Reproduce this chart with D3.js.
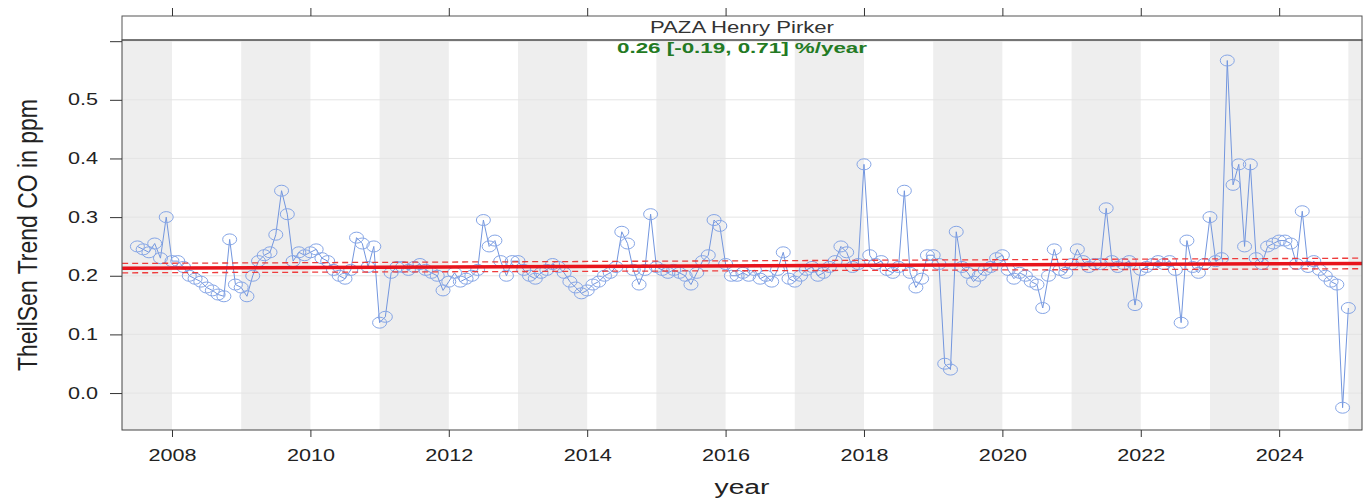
<!DOCTYPE html>
<html>
  <head>
    <meta charset="utf-8">
    <title>TheilSen Trend CO - PAZA Henry Pirker</title>
    <script src="https://d3js.org/d3.v7.min.js"></script>
    <style>
      body { margin: 0; background: #fff; }
      text { font-family: "Liberation Sans", Arial, sans-serif; }
    </style>
  </head>
  <body>
    <script>
        // monthly CO means (ppm), Jul 2007 .. Jan 2025
        var startYear = 2007, startMonth = 7;
        var monthlyCO = [
          0.25, 0.245, 0.24, 0.255, 0.23, 0.30,                                   // 2007
          0.225, 0.225, 0.215, 0.20, 0.195, 0.19, 0.18, 0.175, 0.168, 0.165, 0.262, 0.185, // 2008
          0.18, 0.165, 0.20, 0.225, 0.235, 0.24, 0.27, 0.345, 0.305, 0.225, 0.24, 0.235,   // 2009
          0.24, 0.245, 0.23, 0.225, 0.21, 0.20, 0.195, 0.21, 0.265, 0.255, 0.215, 0.25,    // 2010
          0.12, 0.13, 0.205, 0.215, 0.215, 0.21, 0.215, 0.22, 0.21, 0.205, 0.20, 0.175,    // 2011
          0.19, 0.205, 0.19, 0.195, 0.20, 0.21, 0.295, 0.25, 0.26, 0.225, 0.20, 0.225,     // 2012
          0.225, 0.21, 0.20, 0.195, 0.205, 0.21, 0.22, 0.215, 0.205, 0.19, 0.18, 0.17,     // 2013
          0.175, 0.185, 0.19, 0.20, 0.205, 0.215, 0.275, 0.255, 0.21, 0.185, 0.21, 0.305,  // 2014
          0.215, 0.21, 0.205, 0.21, 0.205, 0.20, 0.185, 0.205, 0.225, 0.235, 0.295, 0.285, // 2015
          0.22, 0.20, 0.20, 0.205, 0.20, 0.21, 0.195, 0.20, 0.19, 0.21, 0.24, 0.195,       // 2016
          0.19, 0.20, 0.21, 0.215, 0.20, 0.205, 0.215, 0.225, 0.25, 0.24, 0.215, 0.22,     // 2017
          0.39, 0.235, 0.22, 0.225, 0.21, 0.205, 0.215, 0.345, 0.205, 0.18, 0.195, 0.235,  // 2018
          0.235, 0.22, 0.05, 0.04, 0.275, 0.215, 0.205, 0.19, 0.20, 0.21, 0.215, 0.23,     // 2019
          0.235, 0.21, 0.195, 0.205, 0.20, 0.19, 0.185, 0.145, 0.20, 0.245, 0.21, 0.205,   // 2020
          0.22, 0.245, 0.225, 0.215, 0.22, 0.22, 0.315, 0.225, 0.215, 0.22, 0.225, 0.15,   // 2021
          0.21, 0.215, 0.22, 0.225, 0.22, 0.225, 0.21, 0.12, 0.26, 0.215, 0.205, 0.22,     // 2022
          0.30, 0.225, 0.23, 0.567, 0.355, 0.39, 0.25, 0.39, 0.23, 0.22, 0.25, 0.255,      // 2023
          0.26, 0.26, 0.255, 0.22, 0.31, 0.215, 0.225, 0.21, 0.20, 0.19, 0.185, -0.025,    // 2024
          0.145                                                                   // 2025
        ];

        // TheilSen trend line and its confidence limits (start / end of the series)
        var trendYears = [2007.28, 2025.2];
        var trendMid = [0.213, 0.221];
        var trendLower = [0.205, 0.212];
        var trendUpper = [0.221, 0.230];

        var xTicks = [2008, 2010, 2012, 2014, 2016, 2018, 2020, 2022, 2024];
        var yTicks = [0.0, 0.1, 0.2, 0.3, 0.4, 0.5, 0.6];
        var yTickLabels = ["0.0", "0.1", "0.2", "0.3", "0.4", "0.5", ""];
        var siteName = "PAZA Henry Pirker";
        var trendText = "0.26 [-0.19, 0.71] %/year";

        var data = monthlyCO.map(function(v, i) {
          var m = startMonth - 1 + i;
          return { t: startYear + Math.floor(m / 12) + (m % 12) / 12, value: v };
        });

        var W = 1364, H = 502;
        var panel = {left: 122, right: 1362, top: 40, bottom: 430};
        var stripTop = 16;
        var stretch = 1.35;   // the source picture is wider than tall-proportioned text

        var svg = d3.select("body").append("svg")
            .attr("width", W)
            .attr("height", H);

        var x = d3.scaleLinear()
            .domain([2007.2775, 2025.197])
            .range([panel.left, panel.right]);
        var y = d3.scaleLinear()
            .domain([-0.063, 0.602])
            .range([panel.bottom, panel.top]);

        svg.append("clipPath").attr("id", "clip")
          .append("rect")
            .attr("x", panel.left).attr("y", panel.top)
            .attr("width", panel.right - panel.left)
            .attr("height", panel.bottom - panel.top);

        var plot = svg.append("g").attr("clip-path", "url(#clip)");

        // alternating year shading (odd years grey)
        var bands = d3.range(2007, 2027, 2);
        plot.selectAll("rect.band")
          .data(bands)
          .enter()
          .append("rect")
            .attr("class", "band")
            .attr("x", function(d) { return x(d); })
            .attr("y", panel.top)
            .attr("width", function(d) { return x(d + 1) - x(d); })
            .attr("height", panel.bottom - panel.top)
            .style("fill", "#eeeeee");

        // faint horizontal grid
        plot.selectAll("line.grid")
          .data(yTicks)
          .enter()
          .append("line")
            .attr("x1", panel.left).attr("x2", panel.right)
            .attr("y1", function(d) { return y(d); })
            .attr("y2", function(d) { return y(d); })
            .style("stroke", "#e4e4e4")
            .style("stroke-width", 1);

        // data line and points
        var line = d3.line()
            .x(function(d) { return x(d.t); })
            .y(function(d) { return y(d.value); });

        plot.append("path")
            .datum(data)
            .attr("d", line)
            .style("fill", "none")
            .style("stroke", "#7396de")
            .style("stroke-width", 1);

        plot.append("g")
          .selectAll("ellipse")
          .data(data)
          .enter()
          .append("ellipse")
            .attr("cx", function(d) { return x(d.t); })
            .attr("cy", function(d) { return y(d.value); })
            .attr("rx", 7)
            .attr("ry", 5.5)
            .style("fill", "none")
            .style("stroke", "#85a5e6")
            .style("stroke-width", 1);

        // trend lines
        function trendLine(vals, dash, width, colour) {
          plot.append("line")
            .attr("x1", x(trendYears[0])).attr("x2", x(trendYears[1]))
            .attr("y1", y(vals[0])).attr("y2", y(vals[1]))
            .style("stroke", colour)
            .style("stroke-width", width)
            .style("stroke-dasharray", dash);
        }
        trendLine(trendUpper, "6,4", 1.3, "#ee3b3b");
        trendLine(trendLower, "6,4", 1.3, "#ee3b3b");
        trendLine(trendMid, null, 3.5, "#e8141c");

        // slope label
        svg.append("text")
            .attr("x", (panel.left + panel.right) / 2)
            .attr("y", 53)
            .attr("text-anchor", "middle")
            .attr("font-size", "14px")
            .attr("font-weight", "bold")
            .attr("textLength", 250)
            .attr("lengthAdjust", "spacingAndGlyphs")
            .style("fill", "#237a23")
            .text(trendText);

        // strip
        svg.append("rect")
            .attr("x", panel.left).attr("y", stripTop)
            .attr("width", panel.right - panel.left)
            .attr("height", panel.top - stripTop)
            .style("fill", "#ffffff")
            .style("stroke", "#555")
            .style("stroke-width", 1);
        svg.append("text")
            .attr("x", (panel.left + panel.right) / 2)
            .attr("y", 33)
            .attr("text-anchor", "middle")
            .attr("font-size", "16px")
            .attr("textLength", 184)
            .attr("lengthAdjust", "spacingAndGlyphs")
            .style("fill", "#333")
            .text(siteName);

        // panel border
        svg.append("rect")
            .attr("x", panel.left).attr("y", panel.top)
            .attr("width", panel.right - panel.left)
            .attr("height", panel.bottom - panel.top)
            .style("fill", "none")
            .style("stroke", "#444")
            .style("stroke-width", 1);

        // axes
        var xAxis = svg.append("g")
            .attr("transform", "translate(0," + panel.bottom + ")")
            .call(d3.axisBottom(x).tickValues(xTicks).tickFormat(d3.format("d"))
                  .tickSize(7).tickPadding(13));
        var xTop = svg.append("g")
            .attr("transform", "translate(0," + stripTop + ")")
            .call(d3.axisTop(x).tickValues(xTicks).tickFormat("").tickSize(8));
        var yAxis = svg.append("g")
            .attr("transform", "translate(" + panel.left + ",0)")
            .call(d3.axisLeft(y).tickValues(yTicks)
                  .tickFormat(function(d, i) { return yTickLabels[i]; })
                  .tickSize(12).tickPadding(12));

        [xAxis, xTop, yAxis].forEach(function(g) {
          g.select(".domain").remove();
          g.selectAll("line").style("stroke", "#333");
          g.selectAll("text")
            .attr("font-size", "16px")
            .style("font-family", "Liberation Sans, Arial, sans-serif")
            .style("fill", "#222")
            .each(function() {
              var t = d3.select(this);
              if (t.text() !== "") {
                var w = this.getComputedTextLength();
                t.attr("textLength", w * stretch).attr("lengthAdjust", "spacingAndGlyphs");
              }
            });
        });

        // axis titles
        svg.append("text")
            .attr("x", (panel.left + panel.right) / 2)
            .attr("y", 494)
            .attr("text-anchor", "middle")
            .attr("font-size", "20px")
            .attr("textLength", 55)
            .attr("lengthAdjust", "spacingAndGlyphs")
            .style("fill", "#222")
            .text("year");

        svg.append("text")
            .attr("transform", "translate(37," + ((panel.top + panel.bottom) / 2) + ") rotate(-90) scale(1," + stretch + ")")
            .attr("text-anchor", "middle")
            .attr("font-size", "20px")
            .attr("textLength", 272)
            .attr("lengthAdjust", "spacingAndGlyphs")
            .style("fill", "#222")
            .text("TheilSen Trend CO in ppm");
    </script>
  </body>
</html>
